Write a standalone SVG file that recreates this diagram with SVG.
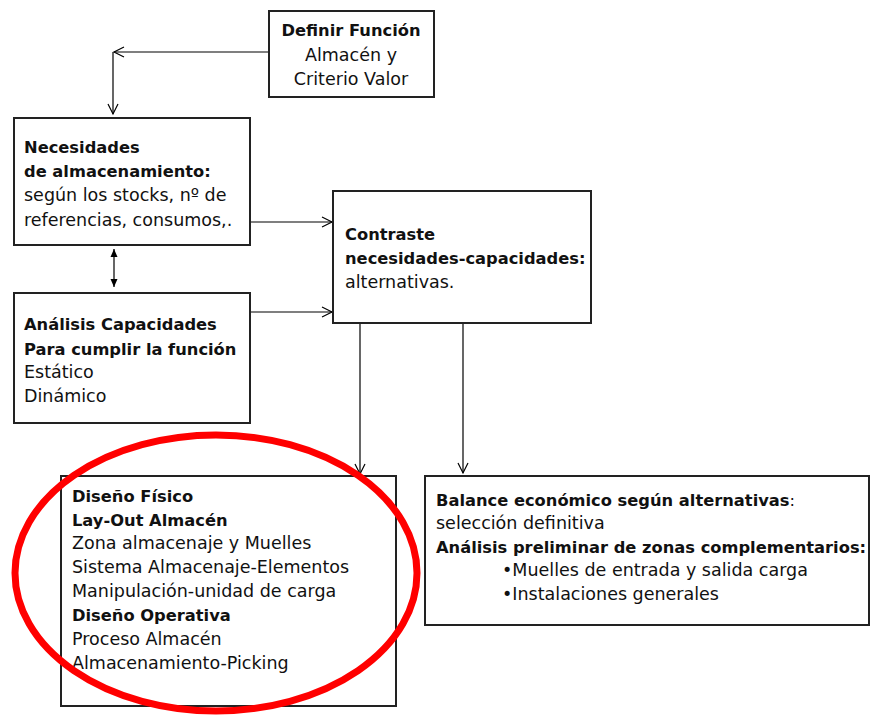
<svg xmlns="http://www.w3.org/2000/svg" width="873" height="716" viewBox="0 0 873 716">
<defs>
<style>
.box{fill:#fff;stroke:#222;stroke-width:2}
.t{font-family:"DejaVu Sans",Verdana,sans-serif;font-size:17.5px;fill:#111}
.b{font-family:"DejaVu Sans",Verdana,sans-serif;font-size:16.3px;font-weight:bold;fill:#111}
.c{fill:none;stroke:#000;stroke-width:1.2}
</style>
<marker id="open" markerUnits="userSpaceOnUse" markerWidth="14" markerHeight="14" viewBox="-12 -7 14 14" refX="0" refY="0" orient="auto">
<path d="M-10,-5 L0,0 L-10,5" fill="none" stroke="#000" stroke-width="1.2"/>
</marker>
<marker id="fill" markerUnits="userSpaceOnUse" markerWidth="12" markerHeight="12" viewBox="-10 -6 12 12" refX="0" refY="0" orient="auto-start-reverse">
<path d="M-8,-3.5 L0,0 L-8,3.5 Z" fill="#000"/>
</marker>
</defs>
<rect width="873" height="716" fill="#fff"/>
<g id="connectors">
<line class="c" x1="269" y1="52" x2="114" y2="52" marker-end="url(#open)"/>
<line class="c" x1="113" y1="52" x2="113" y2="114" marker-end="url(#open)"/>
<line class="c" x1="114" y1="249" x2="114" y2="287" marker-start="url(#fill)" marker-end="url(#fill)"/>
<line class="c" x1="250" y1="222" x2="332" y2="222" marker-end="url(#open)"/>
<line class="c" x1="250" y1="312" x2="332" y2="312" marker-end="url(#open)"/>
<line class="c" x1="360" y1="323" x2="360" y2="474" marker-end="url(#open)"/>
<line class="c" x1="463" y1="323" x2="463" y2="473" marker-end="url(#open)"/>
</g>
<g id="definir">
<rect class="box" x="269" y="11" width="165" height="86"/>
<text class="b" x="351" y="36" text-anchor="middle">Definir Función</text>
<text class="t" x="351" y="61" text-anchor="middle">Almacén y</text>
<text class="t" x="351" y="85" text-anchor="middle">Criterio Valor</text>
</g>
<g id="necesidades">
<rect class="box" x="14" y="118" width="236" height="127"/>
<text class="b" x="24" y="153">Necesidades</text>
<text class="b" x="24" y="177">de almacenamiento:</text>
<text class="t" x="24" y="201">según los stocks, nº de</text>
<text class="t" x="24" y="226">referencias, consumos,.</text>
</g>
<g id="analisis">
<rect class="box" x="14" y="293" width="236" height="130"/>
<text class="b" x="24" y="330">Análisis Capacidades</text>
<text class="b" x="24" y="355">Para cumplir la función</text>
<text class="t" x="24" y="378">Estático</text>
<text class="t" x="24" y="402">Dinámico</text>
</g>
<g id="contraste">
<rect class="box" x="333" y="191" width="258" height="132"/>
<text class="b" x="345" y="240">Contraste</text>
<text class="b" x="345" y="264">necesidades-capacidades:</text>
<text class="t" x="345" y="288">alternativas.</text>
</g>
<g id="diseno">
<rect class="box" x="61" y="476" width="335" height="230"/>
<text class="b" x="72" y="502">Diseño Físico</text>
<text class="b" x="72" y="526">Lay-Out Almacén</text>
<text class="t" x="72" y="549">Zona almacenaje y Muelles</text>
<text class="t" x="72" y="573">Sistema Almacenaje-Elementos</text>
<text class="t" x="72" y="597">Manipulación-unidad de carga</text>
<text class="b" x="72" y="621">Diseño Operativa</text>
<text class="t" x="72" y="645">Proceso Almacén</text>
<text class="t" x="72" y="669">Almacenamiento-Picking</text>
</g>
<g id="balance">
<rect class="box" x="425" y="476" width="444" height="149"/>
<text class="b" x="436" y="506">Balance económico según alternativas<tspan font-weight="normal">:</tspan></text>
<text class="t" x="436" y="529">selección definitiva</text>
<text class="b" x="436" y="553">Análisis preliminar de zonas complementarios:</text>
<text class="t" x="502" y="576">•Muelles de entrada y salida carga</text>
<text class="t" x="502" y="600">•Instalaciones generales</text>
</g>
<g id="highlight">
<ellipse cx="216" cy="573" rx="201" ry="138" fill="none" stroke="#f00" stroke-width="7"/>
</g>
</svg>
